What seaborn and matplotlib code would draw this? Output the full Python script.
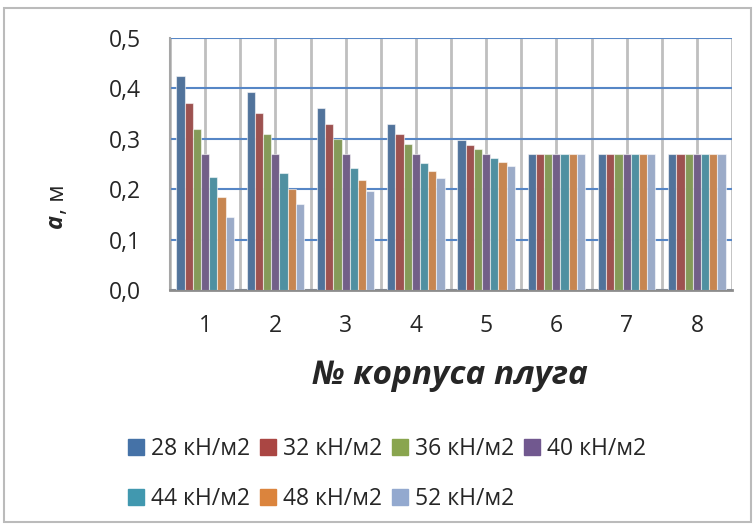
import pandas as pd
import numpy as np
import matplotlib
matplotlib.use('Agg')
import matplotlib.pyplot as plt
import matplotlib.patches as mpatches
import seaborn as sns

# Data
corpus = ['1', '2', '3', '4', '5', '6', '7', '8']
pressure = ['28 кН/м2', '32 кН/м2', '36 кН/м2', '40 кН/м2',
            '44 кН/м2', '48 кН/м2', '52 кН/м2']
a_28 = [0.425, 0.393, 0.361, 0.329, 0.298, 0.27, 0.27, 0.27]
a_32 = [0.371, 0.351, 0.330, 0.310, 0.288, 0.27, 0.27, 0.27]
a_36 = [0.319, 0.309, 0.299, 0.289, 0.279, 0.27, 0.27, 0.27]
a_40 = [0.270, 0.270, 0.270, 0.270, 0.270, 0.27, 0.27, 0.27]
a_44 = [0.225, 0.233, 0.243, 0.252, 0.261, 0.27, 0.27, 0.27]
a_48 = [0.184, 0.200, 0.218, 0.236, 0.253, 0.27, 0.27, 0.27]
a_52 = [0.145, 0.170, 0.196, 0.222, 0.247, 0.27, 0.27, 0.27]
yticks = [0.0, 0.1, 0.2, 0.3, 0.4, 0.5]
ytick_labels = ['0,0', '0,1', '0,2', '0,3', '0,4', '0,5']

colors = ['#4572A7', '#AA4643', '#89A54E', '#71588F',
          '#4198AF', '#DB843D', '#93A9CF']

series = [a_28, a_32, a_36, a_40, a_44, a_48, a_52]
df = pd.DataFrame({
    'corpus': corpus * len(pressure),
    'pressure': np.repeat(pressure, len(corpus)),
    'a': np.concatenate(series),
})

sns.set_style('white')
plt.rcParams['font.family'] = ['Open Sans', 'DejaVu Sans']

W, H = 756, 530
fig = plt.figure(figsize=(W / 100, H / 100), dpi=100)
ax = fig.add_axes([170 / W, 1 - 290 / H, (732 - 170) / W, (290 - 38) / H])

sns.barplot(data=df, x='corpus', y='a', hue='pressure', palette=colors,
            width=0.82, gap=0, edgecolor=(1, 1, 1, 0.55), linewidth=0.8,
            errorbar=None, legend=False, ax=ax, zorder=3)

ax.set_ylim(0, 0.5)
ax.set_xlim(-0.5, len(corpus) - 0.5)
ax.set_yticks(yticks)
ax.set_yticklabels(ytick_labels)
ax.set_xticks(range(len(corpus)))
ax.set_xticklabels(corpus)
ax.set_xticks(np.arange(-0.5, len(corpus)), minor=True)
ax.tick_params(axis='both', which='both', length=0, labelsize=16.5)
ax.tick_params(axis='y', pad=21)
ax.tick_params(axis='x', pad=17)

# gridlines: blue horizontal, gray vertical at centres and boundaries
ax.set_axisbelow(True)
ax.yaxis.grid(True, color='#5686C6', linewidth=1.5)
ax.xaxis.grid(True, which='major', color='#BFBFBF', linewidth=2)
ax.xaxis.grid(True, which='minor', color='#BFBFBF', linewidth=2)
ax.spines['top'].set_visible(False)
ax.spines['right'].set_visible(False)
ax.spines['left'].set_color('#A6A6A6')
ax.spines['left'].set_linewidth(1.5)
ax.spines['bottom'].set_color('#8C8C8C')
ax.spines['bottom'].set_linewidth(2)
ax.set_xlabel('')
ax.set_ylabel('')

fig.text(450 / W, 1 - 375 / H, '№ корпуса плуга', fontsize=24,
         fontweight='bold', fontstyle='italic', ha='center', va='center')
fig.text(56 / W, 1 - 221 / H, 'a', fontsize=17, fontweight='bold',
         fontstyle='italic', rotation=90, ha='center', va='center')
fig.text(58 / W, 1 - 199 / H, ', м', fontsize=17, rotation=90,
         ha='center', va='center')

# legend: row-major order in 4 columns
handles = [mpatches.Patch(color=c, label=p) for c, p in zip(colors, pressure)]
order = [0, 4, 1, 5, 2, 6, 3]
fig.legend([handles[i] for i in order], [pressure[i] for i in order],
           ncol=4, loc='center', bbox_to_anchor=(387 / W, 1 - 474 / H),
           frameon=False, fontsize=16.5, handlelength=0.68, handleheight=0.68,
           handletextpad=0.3, columnspacing=0.45, labelspacing=1.15,
           borderpad=0)

fig.patches.append(mpatches.Rectangle((4 / W, 8 / H), 747 / W, 514 / H,
                                      transform=fig.transFigure, fill=False,
                                      edgecolor='#BBBBBB', linewidth=1.5))

fig.savefig('out.png', dpi=100)
